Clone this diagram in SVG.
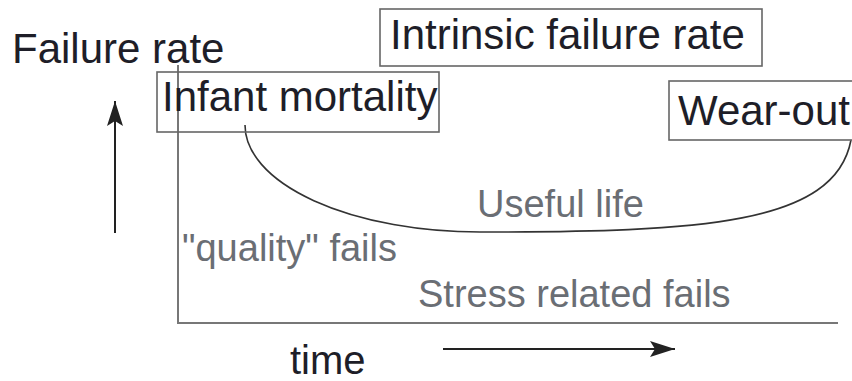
<svg xmlns="http://www.w3.org/2000/svg" width="852" height="381" viewBox="0 0 852 381">
<defs>
<marker id="ah" viewBox="0 0 25 16" refX="25" refY="8" markerWidth="25" markerHeight="16" markerUnits="userSpaceOnUse" orient="auto">
<path d="M0,0 L25,8 L0,16 L5,8 Z" fill="#222"/>
</marker>
<style>
.t{font-family:"Liberation Sans",Arial,sans-serif;}
.dark{fill:#1e1e28;font-size:42px;}
.gray{fill:#6a6e74;font-size:38px;}
.box{fill:none;stroke:#666;stroke-width:1.6;}
.axis{fill:none;stroke:#777;stroke-width:2;}
.arr{fill:none;stroke:#222;stroke-width:2;}
.curve{fill:none;stroke:#333;stroke-width:1.6;}
</style>
</defs>
<rect width="852" height="381" fill="#fff"/>
<g id="axes">
<path class="axis" d="M178,65 V323 H838"/>
</g>
<g id="connectors">
<path class="arr" d="M115,233 V101" marker-end="url(#ah)"/>
<path class="arr" d="M443,349 H675" marker-end="url(#ah)"/>
<path class="curve" d="M245,125 A235,107 0 0 0 480,232 C700,232 835,225 851,140"/>
</g>
<g id="failure-rate"><text class="t dark" x="12" y="63">Failure rate</text></g>
<g id="intrinsic">
<rect class="box" x="380" y="9" width="382" height="57"/>
<text class="t dark" x="390" y="49">Intrinsic failure rate</text>
</g>
<g id="infant">
<rect class="box" x="157" y="72" width="282" height="60"/>
<text class="t dark" x="162" y="111">Infant mortality</text>
</g>
<g id="wearout">
<rect class="box" x="669" y="81" width="190" height="59"/>
<text class="t dark" x="678" y="125">Wear-out</text>
</g>
<g id="useful"><text class="t gray" x="477" y="217">Useful life</text></g>
<g id="quality"><text class="t gray" x="182" y="261">"quality" fails</text></g>
<g id="stress"><text class="t gray" x="418" y="307">Stress related fails</text></g>
<g id="time"><text class="t dark" x="290" y="374" style="font-size:40px">time</text></g>
</svg>
